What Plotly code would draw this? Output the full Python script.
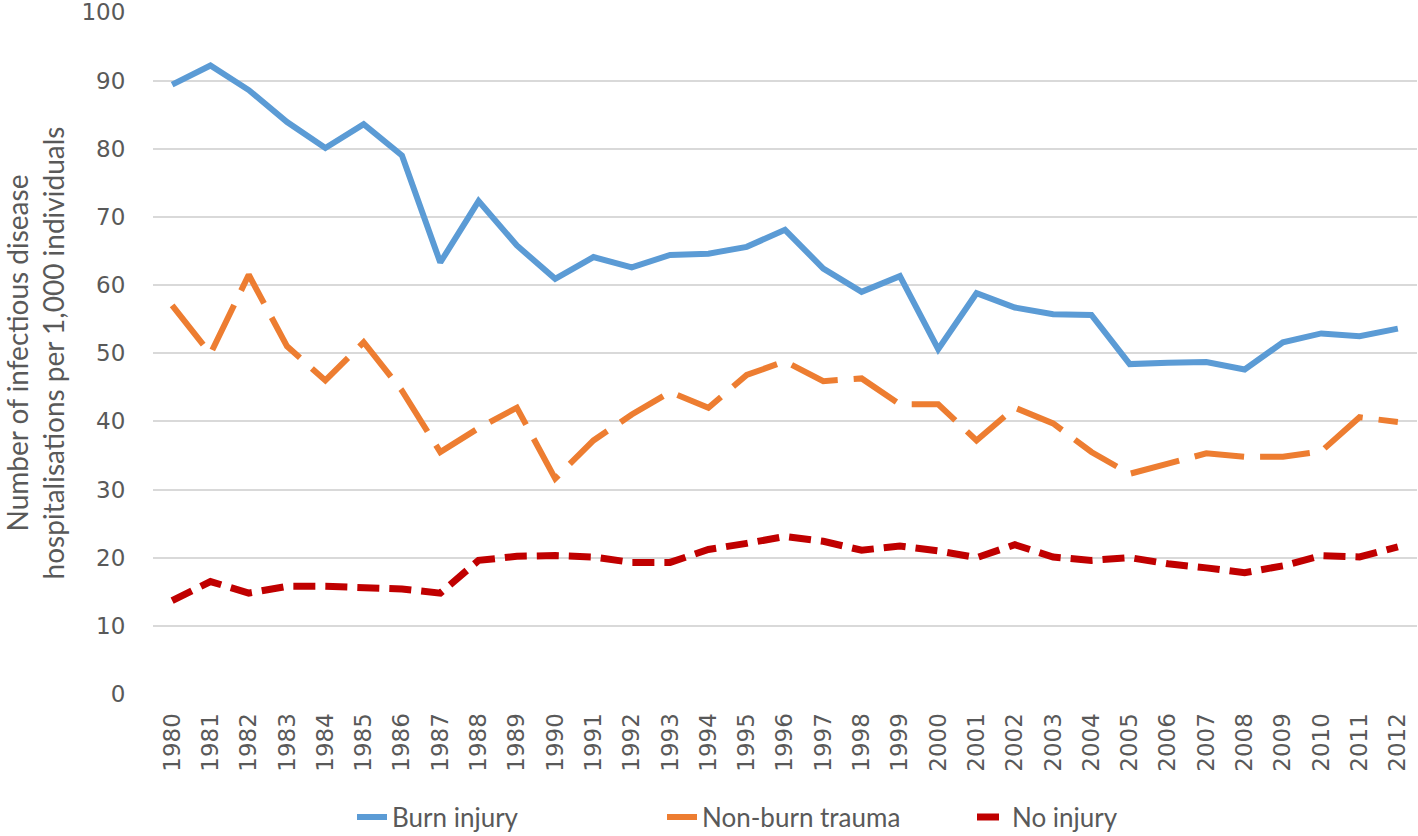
import plotly.graph_objects as go

years = [str(y) for y in range(1980, 2013)]

burn_injury = [89.4, 92.2, 88.6, 83.9, 80.1, 83.6, 79.0, 63.3, 72.3, 65.8, 60.9,
               64.1, 62.6, 64.4, 64.6, 65.6, 68.1, 62.4, 59.0, 61.3, 50.6, 58.8,
               56.7, 55.7, 55.6, 48.4, 48.6, 48.7, 47.6, 51.6, 52.9, 52.5, 53.6]

non_burn_trauma = [57.0, 49.9, 61.5, 51.0, 46.0, 51.6, 44.5, 35.5, 39.0, 42.0, 31.6,
                   37.2, 41.0, 44.3, 42.0, 46.8, 48.8, 45.9, 46.3, 42.5, 42.5, 37.2,
                   42.0, 39.7, 35.5, 32.3, 33.8, 35.3, 34.8, 34.8, 35.6, 40.6, 39.9]

no_injury = [13.7, 16.5, 14.8, 15.8, 15.8, 15.6, 15.4, 14.8, 19.6, 20.2, 20.3,
             20.1, 19.3, 19.3, 21.2, 22.1, 23.1, 22.4, 21.1, 21.7, 21.0, 20.0,
             21.9, 20.1, 19.6, 20.0, 19.1, 18.5, 17.8, 18.8, 20.3, 20.1, 21.6]

y_ticks = list(range(0, 101, 10))

fig = go.Figure()
fig.add_trace(go.Scatter(x=years, y=burn_injury, mode="lines", name="Burn injury",
                         line=dict(color="#5B9BD5", width=6)))
fig.add_trace(go.Scatter(x=years, y=non_burn_trauma, mode="lines", name="Non-burn trauma",
                         line=dict(color="#ED7D31", width=6, dash="50px,16px")))
fig.add_trace(go.Scatter(x=years, y=no_injury, mode="lines", name="No injury",
                         line=dict(color="#C00000", width=7, dash="22px,10px")))

tick_font = dict(family="DejaVu Sans, sans-serif", size=23, color="#595959")
title_font = dict(family="Lato, Roboto, sans-serif", size=28, color="#595959")
legend_font = dict(family="Lato, Roboto, sans-serif", size=26, color="#595959")

fig.update_layout(
    width=1418, height=836,
    paper_bgcolor="white", plot_bgcolor="white",
    margin=dict(l=153, r=1, t=12, b=142, autoexpand=False),
    showlegend=True,
    legend=dict(orientation="h", xref="container", yref="container",
                x=352 / 1418, xanchor="left", y=19 / 836, yanchor="middle",
                font=legend_font, entrywidth=265, entrywidthmode="pixels",
                tracegroupgap=0),
    xaxis=dict(type="category", range=[-0.5, 32.5], tickangle=-90,
               tickfont=tick_font, showgrid=False, showline=False,
               ticks="outside", ticklen=9, tickcolor="rgba(0,0,0,0)",
               automargin=False),
    yaxis=dict(range=[0, 100.05], tickvals=y_ticks, tickfont=tick_font,
               showgrid=True, gridcolor="#D9D9D9", gridwidth=1.5,
               zeroline=False, showline=False,
               ticks="outside", ticklen=22, tickcolor="rgba(0,0,0,0)",
               automargin=False, ticklabeloverflow="allow",
               title=dict(text="Number of infectious disease<br>hospitalisations per 1,000 individuals",
                          font=title_font, standoff=18)),
)

fig.write_html("out.html", config={"displayModeBar": False},
               post_script="document.body.style.margin='0';")
